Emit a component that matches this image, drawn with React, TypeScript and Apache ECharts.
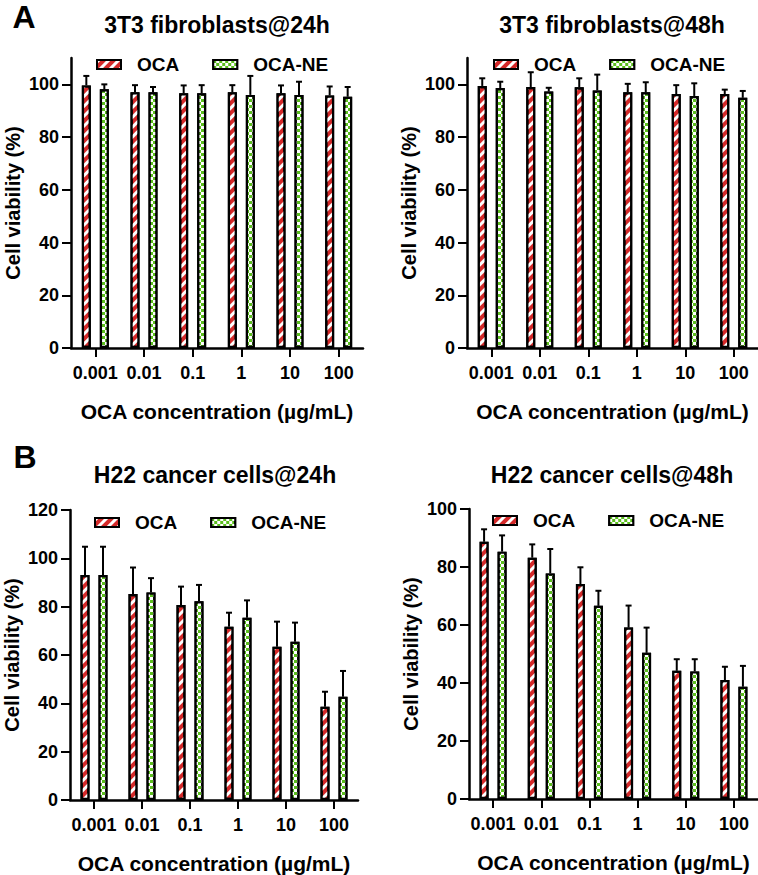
import React, { useEffect, useRef } from "react";
import * as echarts from "echarts";

// concentrations (µg/mL)
const categories = ["0.001", "0.01", "0.1", "1", "10", "100"];

// 3T3 fibroblasts, 24 h
const fib24Oca = [99.6, 97.0, 96.6, 97.0, 96.6, 95.8];
const fib24OcaSd = [3.6, 2.7, 3.0, 2.7, 3.0, 3.4];
const fib24Ne = [98.1, 97.0, 96.6, 96.0, 96.0, 95.3];
const fib24NeSd = [1.9, 2.0, 3.1, 7.2, 5.0, 3.7];

// 3T3 fibroblasts, 48 h
const fib48Oca = [99.4, 99.0, 98.9, 97.0, 96.3, 96.3];
const fib48OcaSd = [2.9, 5.6, 3.4, 3.2, 3.4, 1.7];
const fib48Ne = [98.6, 97.3, 97.7, 97.0, 95.6, 94.9];
const fib48NeSd = [2.4, 1.4, 6.0, 3.8, 4.8, 2.6];

// H22 cancer cells, 24 h
const h22_24Oca = [93.1, 85.2, 80.7, 71.7, 63.4, 38.6];
const h22_24OcaSd = [11.7, 11.0, 7.6, 5.8, 10.4, 6.2];
const h22_24Ne = [93.1, 85.9, 82.2, 75.4, 65.5, 42.7];
const h22_24NeSd = [11.7, 5.9, 6.8, 7.2, 7.9, 10.7];

// H22 cancer cells, 48 h
const h22_48Oca = [88.7, 83.2, 74.1, 59.1, 44.2, 41.0];
const h22_48OcaSd = [4.3, 4.6, 5.8, 7.6, 4.0, 4.6];
const h22_48Ne = [85.3, 77.8, 66.6, 50.4, 44.0, 38.7];
const h22_48NeSd = [5.6, 8.4, 5.2, 8.7, 4.2, 7.2];

// y tick labels
const fibTicks = [0, 20, 40, 60, 80, 100];
const h22_24Ticks = [0, 20, 40, 60, 80, 100, 120];
const h22_48Ticks = [0, 20, 40, 60, 80, 100];

const FONT = "Liberation Sans, Arial, sans-serif";
const RED = "#d42a2a";
const GREEN = "#5cbf1e";
const BAR_W = 9;
const BAR_OFF = 9; // half distance between the two bar centres

const stripes = {
  symbol: "rect",
  symbolSize: 1,
  color: "#ffffff",
  dashArrayX: [1, 0],
  dashArrayY: [2.4, 3.2],
  rotation: -Math.PI / 4,
};

const checker = {
  symbol: "rect",
  symbolSize: 1,
  color: "#ffffff",
  dashArrayX: [
    [2.5, 2.5],
    [0, 2.5, 2.5, 0],
  ],
  dashArrayY: [2.5, 0],
};

const panels = [
  {
    title: "3T3 fibroblasts@24h",
    grid: { left: 71, top: 58, width: 292, height: 290 },
    max: 110,
    ticks: fibTicks,
    oca: fib24Oca,
    ocaSd: fib24OcaSd,
    ne: fib24Ne,
    neSd: fib24NeSd,
    titleX: 217,
    titleY: 25,
    legend: { left: 96, top: 55 },
  },
  {
    title: "3T3 fibroblasts@48h",
    grid: { left: 467, top: 58, width: 291, height: 290 },
    max: 110,
    ticks: fibTicks,
    oca: fib48Oca,
    ocaSd: fib48OcaSd,
    ne: fib48Ne,
    neSd: fib48NeSd,
    titleX: 612,
    titleY: 25,
    legend: { left: 493, top: 55 },
  },
  {
    title: "H22 cancer cells@24h",
    grid: { left: 70, top: 510, width: 288, height: 290 },
    max: 120,
    ticks: h22_24Ticks,
    oca: h22_24Oca,
    ocaSd: h22_24OcaSd,
    ne: h22_24Ne,
    neSd: h22_24NeSd,
    titleX: 215,
    titleY: 475,
    legend: { left: 94, top: 513 },
  },
  {
    title: "H22 cancer cells@48h",
    grid: { left: 469, top: 509, width: 289, height: 290 },
    max: 100,
    ticks: h22_48Ticks,
    oca: h22_48Oca,
    ocaSd: h22_48OcaSd,
    ne: h22_48Ne,
    neSd: h22_48NeSd,
    titleX: 612,
    titleY: 475,
    legend: { left: 492, top: 511 },
  },
];

const errorSeries = (idx: number, name: string, vals: number[], sd: number[], off: number) => ({
  type: "custom",
  name,
  xAxisIndex: idx,
  yAxisIndex: idx,
  data: vals.map((v, i) => [i, v, v + sd[i]]),
  encode: { x: 0, y: [1, 2] },
  z: 3,
  renderItem: (params: any, api: any) => {
    const base = api.coord([api.value(0), api.value(1)]);
    const top = api.coord([api.value(0), api.value(2)]);
    const cx = base[0] + off;
    const st = { stroke: "#000", lineWidth: 2 };
    return {
      type: "group",
      children: [
        { type: "line", shape: { x1: cx, y1: base[1], x2: cx, y2: top[1] }, style: st },
        { type: "line", shape: { x1: cx - 3, y1: top[1], x2: cx + 3, y2: top[1] }, style: st },
      ],
    };
  },
});

const App = () => {
  const chartRef = useRef<HTMLDivElement>(null);

  useEffect(() => {
    document.body.style.margin = "0";
    const chart = echarts.init(chartRef.current, null, { renderer: "svg" });

    const grids: any[] = [];
    const xAxes: any[] = [];
    const yAxes: any[] = [];
    const legends: any[] = [];
    const series: any[] = [];
    const texts: any[] = [];

    panels.forEach((p, i) => {
      grids.push(p.grid);
      xAxes.push({
        type: "category",
        gridIndex: i,
        data: categories,
        name: "OCA concentration (µg/mL)",
        nameLocation: "middle",
        nameGap: 53,
        nameTextStyle: { fontFamily: FONT, fontWeight: "bold", fontSize: 21, color: "#000" },
        axisLine: { show: true, lineStyle: { color: "#000", width: 2.5 } },
        axisTick: { show: true, alignWithLabel: true, interval: 0, length: 9, lineStyle: { width: 2, color: "#000" } },
        axisLabel: { interval: 0, margin: 16, fontFamily: FONT, fontWeight: "bold", fontSize: 18, color: "#000" },
      });
      yAxes.push({
        type: "value",
        gridIndex: i,
        min: 0,
        max: p.max,
        name: "Cell viability (%)",
        nameLocation: "middle",
        nameGap: 48,
        nameTextStyle: { fontFamily: FONT, fontWeight: "bold", fontSize: 20, color: "#000" },
        splitLine: { show: false },
        axisLine: { show: true, lineStyle: { color: "#000", width: 2.5 } },
        axisTick: { show: true, length: 9, customValues: p.ticks, lineStyle: { width: 2, color: "#000" } },
        axisLabel: { margin: 12, customValues: p.ticks, fontFamily: FONT, fontWeight: "bold", fontSize: 18, color: "#000" },
      });
      legends.push({
        data: ["OCA", "OCA-NE"],
        left: p.legend.left,
        top: p.legend.top,
        icon: "rect",
        itemWidth: 24,
        itemHeight: 9,
        itemGap: 33,
        padding: 0,
        selectedMode: false,
        textStyle: { fontFamily: FONT, fontWeight: "bold", fontSize: 19, color: "#000", padding: [0, 0, 0, 11] },
      });
      series.push({
        type: "bar",
        name: "OCA",
        xAxisIndex: i,
        yAxisIndex: i,
        data: p.oca,
        barWidth: BAR_W,
        barGap: "100%",
        itemStyle: { color: RED, borderColor: "#000", borderWidth: 2.2, decal: stripes },
      });
      series.push({
        type: "bar",
        name: "OCA-NE",
        xAxisIndex: i,
        yAxisIndex: i,
        data: p.ne,
        barWidth: BAR_W,
        barGap: "100%",
        itemStyle: { color: GREEN, borderColor: "#000", borderWidth: 2.2, decal: checker },
      });
      series.push(errorSeries(i, "OCA SD", p.oca, p.ocaSd, -BAR_OFF));
      series.push(errorSeries(i, "OCA-NE SD", p.ne, p.neSd, BAR_OFF));
      texts.push({
        type: "text",
        x: p.titleX,
        y: p.titleY,
        style: {
          text: p.title,
          fontFamily: FONT,
          fontWeight: "bold",
          fontSize: 23,
          fill: "#000",
          align: "center",
          verticalAlign: "middle",
        },
      });
    });

    texts.push(
      {
        type: "text",
        x: 24,
        y: 17,
        style: { text: "A", fontFamily: FONT, fontWeight: "bold", fontSize: 32, fill: "#000", align: "center", verticalAlign: "middle" },
      },
      {
        type: "text",
        x: 25,
        y: 457,
        style: { text: "B", fontFamily: FONT, fontWeight: "bold", fontSize: 32, fill: "#000", align: "center", verticalAlign: "middle" },
      }
    );

    chart.setOption({
      animation: false,
      backgroundColor: "#fff",
      grid: grids,
      xAxis: xAxes,
      yAxis: yAxes,
      legend: legends,
      series,
      graphic: texts,
    });

    return () => {
      chart.dispose();
    };
  }, []);

  return <div ref={chartRef} style={{ width: 758, height: 875 }}></div>;
};

export default App;
